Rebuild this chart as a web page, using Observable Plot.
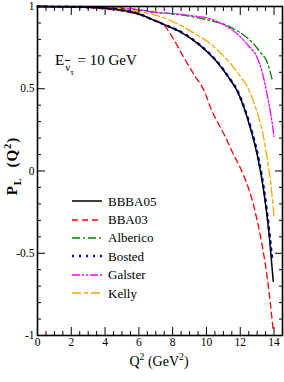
<!DOCTYPE html>
<html><head><meta charset="utf-8">
<script src="https://cdn.jsdelivr.net/npm/d3@7"></script>
<script src="https://cdn.jsdelivr.net/npm/@observablehq/plot@0.6"></script>
<style>
body{margin:0;background:#fff}
#wrap{position:relative;width:284px;height:382px;font-family:"Liberation Serif","Times New Roman",Times,"DejaVu Serif",serif;color:#000}
#wrap svg text{font-family:"Liberation Serif","Times New Roman",Times,"DejaVu Serif",serif}
.ov{position:absolute;white-space:nowrap;line-height:1}
sub,sup{font-size:70%;line-height:0}
</style>
</head><body><div id="wrap"></div><script>
const seriesNames = ["BBBA05","BBA03","Alberico","Bosted","Galster","Kelly"];
const seriesColors = ["#000000","#ff0000","#008000","#0000ff","#ff00ff","#ffa500"];
const seriesDashes = ["none","6,4","8,3,2,3","2,5","8,2,2,2,2,2","9,3,4,3"];
const seriesWidths = [1.5,1.3,1.3,2.4,1.3,1.3];

const qBBBA05 = [0, 2, 4, 5, 6, 6.7, 7.5, 8.5, 9.6, 10.6, 11.4, 11.8, 12.2, 12.6, 13.1, 13.4, 13.7, 13.95];
const pBBBA05 = [1, 0.998, 0.99, 0.978, 0.955, 0.925, 0.89, 0.843, 0.765, 0.665, 0.555, 0.49, 0.39, 0.26, 0.05, -0.13, -0.38, -0.67];
const qBBA03 = [0, 2, 4, 5, 6, 6.7, 7.5, 8, 8.66, 9.3, 9.85, 10.3, 10.8, 11.13, 11.6, 12, 12.4, 12.72, 13, 13.31, 13.6, 13.96];
const pBBA03 = [1, 0.997, 0.985, 0.972, 0.95, 0.925, 0.885, 0.81, 0.69, 0.58, 0.49, 0.37, 0.27, 0.205, 0.1, 0.02, -0.08, -0.18, -0.3, -0.46, -0.65, -0.98];
const qAlberico = [0, 2, 4, 6, 7, 8.6, 10, 11.2, 12, 12.6, 13.2, 13.6, 13.9];
const pAlberico = [1, 0.999, 0.995, 0.978, 0.966, 0.947, 0.92, 0.885, 0.84, 0.793, 0.72, 0.66, 0.55];
const qBosted = [0, 2, 4, 5, 6, 6.7, 7.5, 8.5, 9.6, 10.6, 11.4, 11.8, 12.2, 12.6, 13.1, 13.4, 13.7, 13.9];
const pBosted = [1, 0.998, 0.99, 0.978, 0.955, 0.925, 0.89, 0.845, 0.767, 0.668, 0.558, 0.495, 0.395, 0.27, 0.065, -0.11, -0.35, -0.55];
const qGalster = [0, 2, 4, 6, 6.9, 8, 9, 10.2, 11, 11.8, 12.5, 13, 13.3, 13.6, 13.8, 14];
const pGalster = [1, 0.999, 0.995, 0.982, 0.963, 0.957, 0.945, 0.925, 0.89, 0.835, 0.76, 0.69, 0.6, 0.46, 0.35, 0.21];
const qKelly = [0, 2, 4, 6, 6.7, 7.5, 8.46, 9.4, 10.24, 10.9, 11.43, 12, 12.4, 12.7, 13, 13.3, 13.6, 13.8, 14];
const pKelly = [1, 0.999, 0.995, 0.97, 0.955, 0.93, 0.885, 0.83, 0.773, 0.71, 0.652, 0.575, 0.515, 0.445, 0.355, 0.245, 0.07, -0.07, -0.28];

const xMajorTicks = [0, 2, 4, 6, 8, 10, 12, 14];
const xMinorTicks = [0.5,1,1.5,2.5,3,3.5,4.5,5,5.5,6.5,7,7.5,8.5,9,9.5,10.5,11,11.5,12.5,13,13.5,14.5];
const yMajorTicks = [-1, -0.5, 0, 0.5, 1];
const yTickLabels = ["-1", "-0.5", "0", "0.5", "1"];
const yMinorTicks = [-0.9,-0.8,-0.7,-0.6,-0.4,-0.3,-0.2,-0.1,0.1,0.2,0.3,0.4,0.6,0.7,0.8,0.9];

const seriesQ = [qBBBA05, qBBA03, qAlberico, qBosted, qGalster, qKelly];
const seriesP = [pBBBA05, pBBA03, pAlberico, pBosted, pGalster, pKelly];
const drawOrder = [1, 2, 4, 5, 3, 0];

const lineMarks = drawOrder.map(i => {
  const rows = seriesQ[i].map((q, j) => ({q, p: seriesP[i][j]}));
  return Plot.line(rows, {x: "q", y: "p", stroke: seriesColors[i],
    strokeDasharray: seriesDashes[i], strokeWidth: seriesWidths[i], curve: "monotone-x"});
});

const fontList = '"Liberation Serif","Times New Roman",Times,"DejaVu Serif",serif';
const chart = Plot.plot({
  width: 284, height: 382,
  marginTop: 6, marginRight: 2, marginBottom: 47, marginLeft: 37,
  style: {fontFamily: fontList, fontSize: "11.5px", background: "#fff", color: "#000"},
  x: {domain: [0, 14.5]},
  y: {domain: [-1, 1]},
  marks: [
    ...lineMarks,
    Plot.axisX({anchor: "bottom", ticks: xMajorTicks, tickSize: -8, tickPadding: 10, label: null, tickFormat: d => String(d)}),
    Plot.axisX({anchor: "bottom", ticks: xMinorTicks, tickSize: -4, fill: "none", label: null}),
    Plot.axisX({anchor: "top", ticks: xMajorTicks, tickSize: -8, fill: "none", label: null}),
    Plot.axisX({anchor: "top", ticks: xMinorTicks, tickSize: -4, fill: "none", label: null}),
    Plot.axisY({anchor: "left", ticks: yMajorTicks, tickSize: -8, tickPadding: 11, label: null,
      tickFormat: d => yTickLabels[yMajorTicks.indexOf(d)]}),
    Plot.axisY({anchor: "left", ticks: yMinorTicks, tickSize: -4, fill: "none", label: null}),
    Plot.axisY({anchor: "right", ticks: yMajorTicks, tickSize: -8, fill: "none", label: null}),
    Plot.axisY({anchor: "right", ticks: yMinorTicks, tickSize: -4, fill: "none", label: null}),
    Plot.frame({strokeWidth: 1.6})
  ]
});
const wrap = document.getElementById("wrap");
wrap.appendChild(chart);

// legend
const legend = document.createElement("div");
legend.className = "ov";
legend.style.cssText = "left:72px;top:192px;font-size:13px";
seriesNames.forEach((name, i) => {
  const row = document.createElement("div");
  row.style.cssText = "display:flex;align-items:center;height:18.4px";
  row.innerHTML = `<svg width="30" height="6" style="margin-right:6px"><line x1="0" y1="3" x2="30" y2="3" stroke="${seriesColors[i]}" stroke-width="${seriesWidths[i]}" stroke-dasharray="${seriesDashes[i]}"/></svg><span>${name}</span>`;
  legend.appendChild(row);
});
wrap.appendChild(legend);

// annotation
const ann = document.createElement("div");
ann.className = "ov";
ann.style.cssText = "left:55px;top:53px;font-size:15px";
ann.innerHTML = 'E<span style="display:inline-block;font-size:11px;position:relative;top:6px;margin-left:1px"><span style="text-decoration:overline">ν</span><span style="font-size:9px;position:relative;top:4px">τ</span></span> = 10 GeV';
wrap.appendChild(ann);

// axis labels
const xl = document.createElement("div");
xl.className = "ov";
xl.style.cssText = "left:0;width:318px;text-align:center;top:355px;font-size:14px";
xl.innerHTML = 'Q<sup>2</sup> (GeV<sup>2</sup>)';
wrap.appendChild(xl);

const yl = document.createElement("div");
yl.className = "ov";
yl.style.cssText = "left:12px;top:166px;font-size:15px;font-weight:bold;letter-spacing:1px;transform:translate(-50%,-50%) rotate(-90deg)";
yl.innerHTML = 'P<sub>L</sub>&nbsp;&nbsp;(Q<sup>2</sup>)';
wrap.appendChild(yl);
</script></body></html>
